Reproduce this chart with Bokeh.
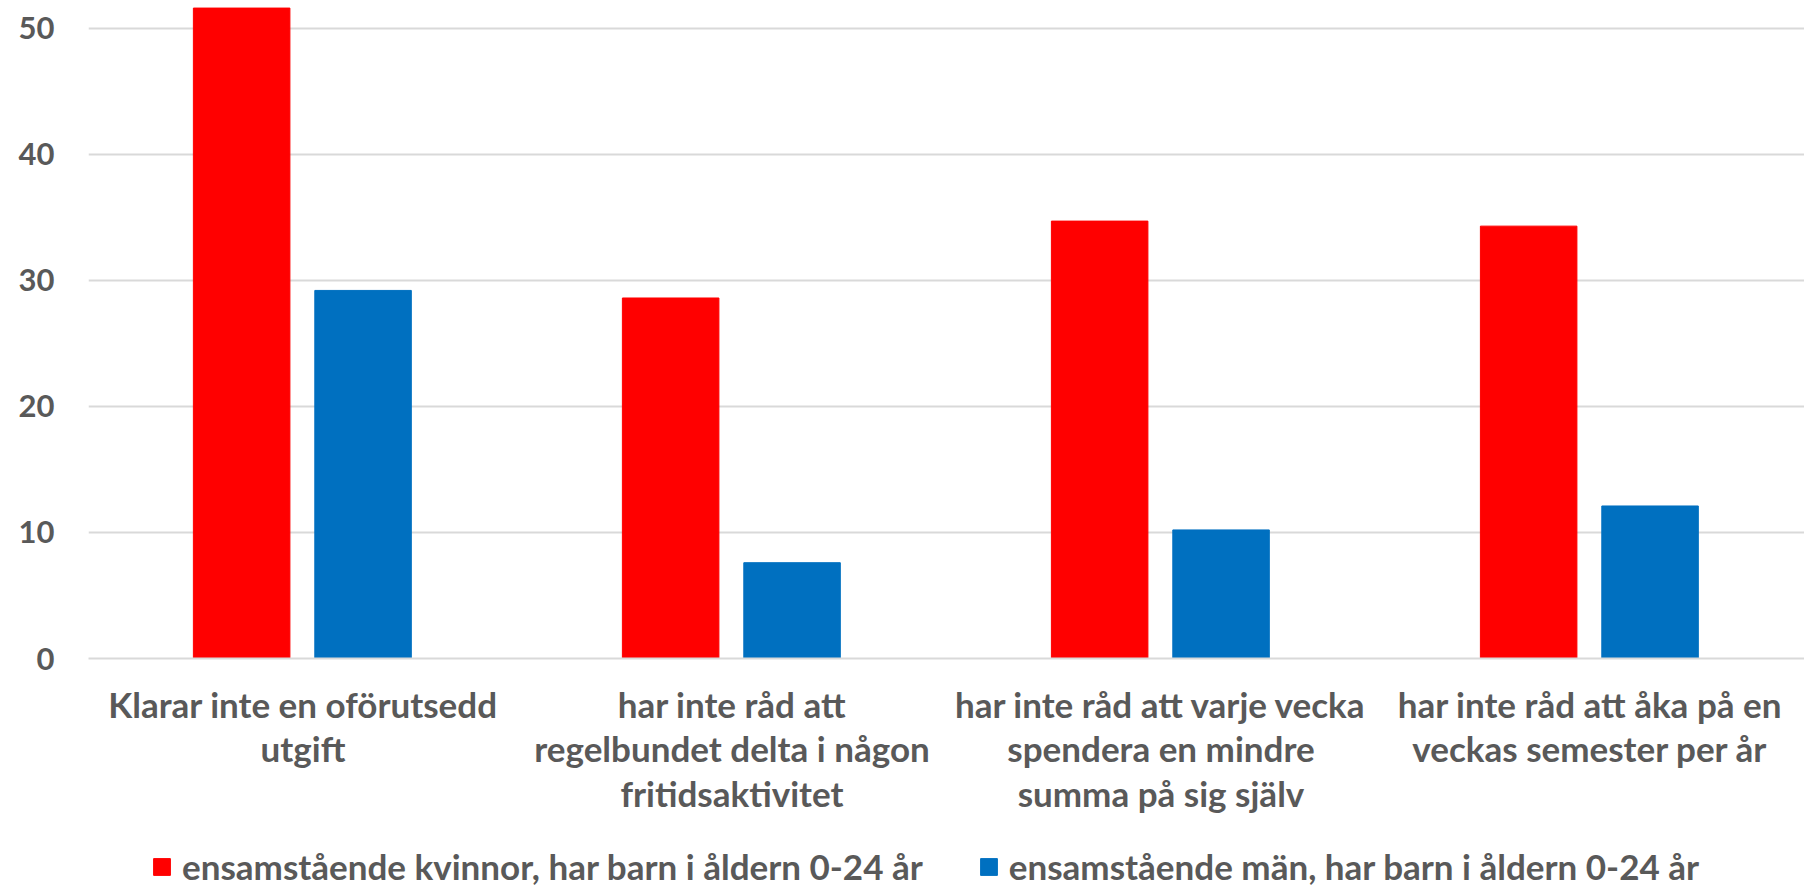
from bokeh.plotting import figure
from bokeh.layouts import column
from bokeh.models import ColumnDataSource, FactorRange, Range1d, FixedTicker, Legend, LegendItem
from bokeh.transform import dodge
from bokeh.embed import file_html
from bokeh.resources import INLINE

categories = [
    "Klarar inte en oförutsedd\nutgift",
    "har inte råd att\nregelbundet delta i någon\nfritidsaktivitet",
    "har inte råd att varje vecka\nspendera en mindre\nsumma på sig själv",
    "har inte råd att åka på en\nveckas semester per år",
]
kvinnor = [51.6, 28.6, 34.7, 34.3]
man = [29.2, 7.6, 10.2, 12.1]
series_names = [
    "ensamstående kvinnor, har barn i åldern 0-24 år",
    "ensamstående män, har barn i åldern 0-24 år",
]
y_ticks = [0, 10, 20, 30, 40, 50]

FONT = "Lato"
GREY = "#595959"
RED = "#FF0000"
BLUE = "#0070C0"

src = ColumnDataSource(dict(cats=categories, k=kvinnor, m=man))

# ---- main chart ----
p = figure(
    x_range=FactorRange(*categories),
    y_range=Range1d(0, 52.2),
    width=1804, height=835,
    output_backend="svg", toolbar_location=None,
    min_border_top=0, min_border_right=0, min_border_left=88, min_border_bottom=177,
)
p.outline_line_color = None

p.vbar(x=dodge("cats", -0.143, range=p.x_range), top="k", width=0.225,
       source=src, fill_color=RED, line_color=RED)
p.vbar(x=dodge("cats", 0.14, range=p.x_range), top="m", width=0.225,
       source=src, fill_color=BLUE, line_color=BLUE)

p.xgrid.grid_line_color = None
p.ygrid.grid_line_color = "#D9D9D9"
p.ygrid.grid_line_width = 2
p.ygrid.level = "underlay"

p.yaxis.ticker = FixedTicker(ticks=y_ticks)
p.yaxis.axis_line_color = None
p.yaxis.major_tick_line_color = None
p.yaxis.minor_tick_line_color = None
p.yaxis.major_label_text_font = FONT
p.yaxis.major_label_text_font_style = "bold"
p.yaxis.major_label_text_font_size = "31px"
p.yaxis.major_label_text_color = GREY
p.yaxis.major_label_standoff = 28

p.xaxis.axis_line_color = "#D9D9D9"
p.xaxis.axis_line_width = 2
p.xaxis.major_tick_line_color = None
p.xaxis.minor_tick_line_color = None
p.xaxis.major_label_text_font = FONT
p.xaxis.major_label_text_font_style = "bold"
p.xaxis.major_label_text_font_size = "35px"
p.xaxis.major_label_text_color = GREY
p.xaxis.major_label_text_line_height = 1.07
p.xaxis.major_label_standoff = 18

# ---- legend strip (same data, bars outside its visible range) ----
lg = figure(
    x_range=p.x_range, y_range=Range1d(1000, 1001),
    width=1804, height=52,
    output_backend="svg", toolbar_location=None,
    x_axis_location=None, y_axis_location=None,
    min_border=0,
)
lg.outline_line_color = None
lg.grid.grid_line_color = None
lr1 = lg.vbar(x=dodge("cats", -0.143, range=p.x_range), top="k", width=0.225,
              source=src, fill_color=RED, line_color=RED)
lr2 = lg.vbar(x=dodge("cats", 0.14, range=p.x_range), top="m", width=0.225,
              source=src, fill_color=BLUE, line_color=BLUE)

legend = Legend(items=[LegendItem(label=series_names[0], renderers=[lr1]),
                       LegendItem(label=series_names[1], renderers=[lr2])],
                orientation="horizontal", location=(63, 0))
legend.label_text_font = FONT
legend.label_text_font_style = "bold"
legend.label_text_font_size = "35px"
legend.label_text_color = GREY
legend.glyph_width = 21
legend.glyph_height = 21
legend.label_standoff = 10
legend.spacing = 55
legend.padding = 0
legend.margin = 0
legend.border_line_color = None
legend.background_fill_alpha = 0
lg.add_layout(legend, "center")

layout = column(p, lg, spacing=0)
open("out.html", "w").write(file_html(layout, INLINE))
